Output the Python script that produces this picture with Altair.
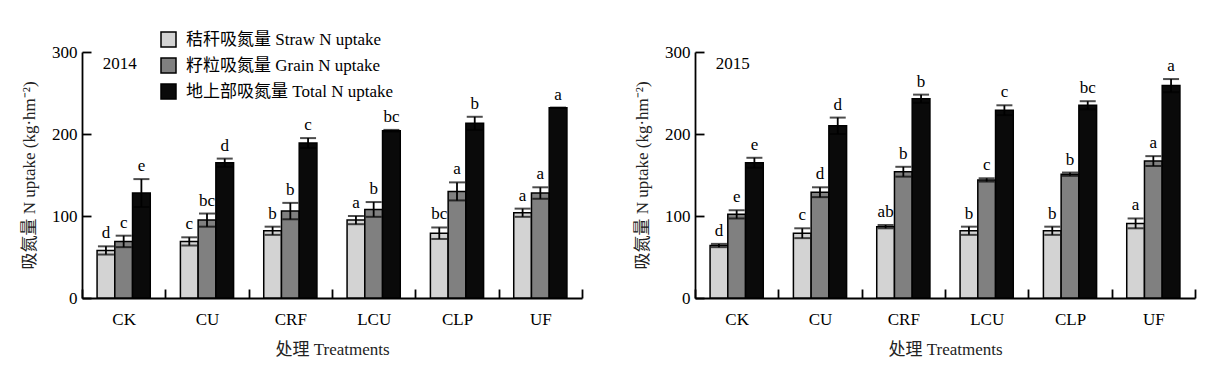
import altair as alt
import pandas as pd

treatments = ["CK", "CU", "CRF", "LCU", "CLP", "UF"]
components = ["秸秆吸氮量 Straw N uptake", "籽粒吸氮量 Grain N uptake", "地上部吸氮量 Total N uptake"]
colors = ["#d3d3d3", "#808080", "#0a0a0a"]

straw_2014 = [58, 69, 82, 95, 79, 104]
straw_err_2014 = [5, 5, 5, 5, 7, 5]
straw_sig_2014 = ["d", "c", "b", "a", "bc", "a"]
grain_2014 = [69, 95, 106, 108, 130, 128]
grain_err_2014 = [7, 8, 10, 9, 11, 7]
grain_sig_2014 = ["c", "bc", "b", "b", "a", "a"]
total_2014 = [128, 165, 189, 204, 213, 232]
total_err_2014 = [17, 5, 6, 1, 8, 0]
total_sig_2014 = ["e", "d", "c", "bc", "b", "a"]

straw_2015 = [64, 79, 87, 82, 82, 91]
straw_err_2015 = [2, 6, 2, 5, 5, 6]
straw_sig_2015 = ["d", "c", "ab", "b", "b", "a"]
grain_2015 = [102, 129, 154, 144, 151, 167]
grain_err_2015 = [5, 6, 6, 2, 2, 6]
grain_sig_2015 = ["e", "d", "b", "c", "b", "a"]
total_2015 = [165, 210, 243, 229, 235, 259]
total_err_2015 = [6, 10, 5, 6, 5, 8]
total_sig_2015 = ["e", "d", "b", "c", "bc", "a"]

FONT = "Liberation Serif, Noto Sans CJK SC"


def build(vals, errs, sigs):
    rows = []
    for comp, v, e, s in zip(components, vals, errs, sigs):
        for t, vv, ee, ss in zip(treatments, v, e, s):
            rows.append({"treatment": t, "component": comp, "value": vv,
                         "lo": vv - ee, "hi": vv + ee, "sig": ss})
    return pd.DataFrame(rows)


df14 = build([straw_2014, grain_2014, total_2014],
             [straw_err_2014, grain_err_2014, total_err_2014],
             [straw_sig_2014, grain_sig_2014, total_sig_2014])
df15 = build([straw_2015, grain_2015, total_2015],
             [straw_err_2015, grain_err_2015, total_err_2015],
             [straw_sig_2015, grain_sig_2015, total_sig_2015])


def panel(df, year, show_legend):
    x = alt.X("treatment:N", sort=treatments,
              scale=alt.Scale(domain=treatments, paddingInner=0, paddingOuter=0),
              axis=alt.Axis(title="处理 Treatments", labelAngle=0, tickBand="extent",
                            tickSize=alt.ExprRef(expr="-9"), labelPadding=22,
                            titlePadding=14))
    xoff = alt.XOffset("component:N", sort=components,
                       scale=alt.Scale(domain=components, paddingInner=0, paddingOuter=0.85))
    y = alt.Y("value:Q", scale=alt.Scale(domain=[0, 300], nice=False),
              axis=alt.Axis(title="吸氮量 N uptake (kg·hm⁻²)", values=[0, 100, 200, 300],
                            tickSize=alt.ExprRef(expr="-9"), labelPadding=14,
                            titlePadding=13))
    legend = alt.Legend(title=None, orient="none", legendX=78, legendY=-21,
                        symbolType="square", symbolSize=225, symbolStrokeColor="black",
                        symbolStrokeWidth=1.5, symbolOpacity=1, labelFontSize=17,
                        labelFont=FONT, rowPadding=5, labelOffset=9,
                        labelLimit=400) if show_legend else None
    color = alt.Color("component:N", sort=components,
                      scale=alt.Scale(domain=components, range=colors), legend=legend)
    base = alt.Chart(df)
    bars = base.mark_bar(stroke="black", strokeWidth=1.5).encode(x=x, xOffset=xoff, y=y, color=color)
    rules = base.mark_rule(color="black", strokeWidth=1.8).encode(
        x=x, xOffset=xoff, y="lo:Q", y2="hi:Q")
    caps_hi = base.mark_tick(color="black", thickness=2, size=16).encode(
        x=x, xOffset=xoff, y="hi:Q")
    caps_lo = base.mark_tick(color="black", thickness=2, size=16).encode(
        x=x, xOffset=xoff, y="lo:Q")
    text = base.mark_text(dy=-8, baseline="alphabetic", fontSize=17, font=FONT,
                          color="black").encode(x=x, xOffset=xoff, y="hi:Q", text="sig:N")
    yr = alt.Chart(pd.DataFrame({"treatment": ["CK"], "value": [285], "label": [year]})).mark_text(
        fontSize=17, font=FONT, color="black", baseline="middle", dx=-4).encode(
        x=x, y=alt.Y("value:Q"), text="label:N")
    return alt.layer(bars, rules, caps_hi, caps_lo, text, yr).properties(width=500, height=246)


chart = alt.hconcat(panel(df14, "2014", True), panel(df15, "2015", False), spacing=50).resolve_legend(
    color="independent").properties(
    padding={"left": 12, "top": 23, "right": 5, "bottom": 5}
).configure_view(stroke=None).configure_axis(
    labelFont=FONT, titleFont=FONT, labelFontSize=17, titleFontSize=17,
    labelColor="black", titleColor="#222", titleFontWeight="normal",
    domainColor="black", domainWidth=1.8, tickColor="black", tickWidth=1.8,
    grid=False
)

chart.save("out.html", embed_options={"renderer": "svg", "actions": False})
